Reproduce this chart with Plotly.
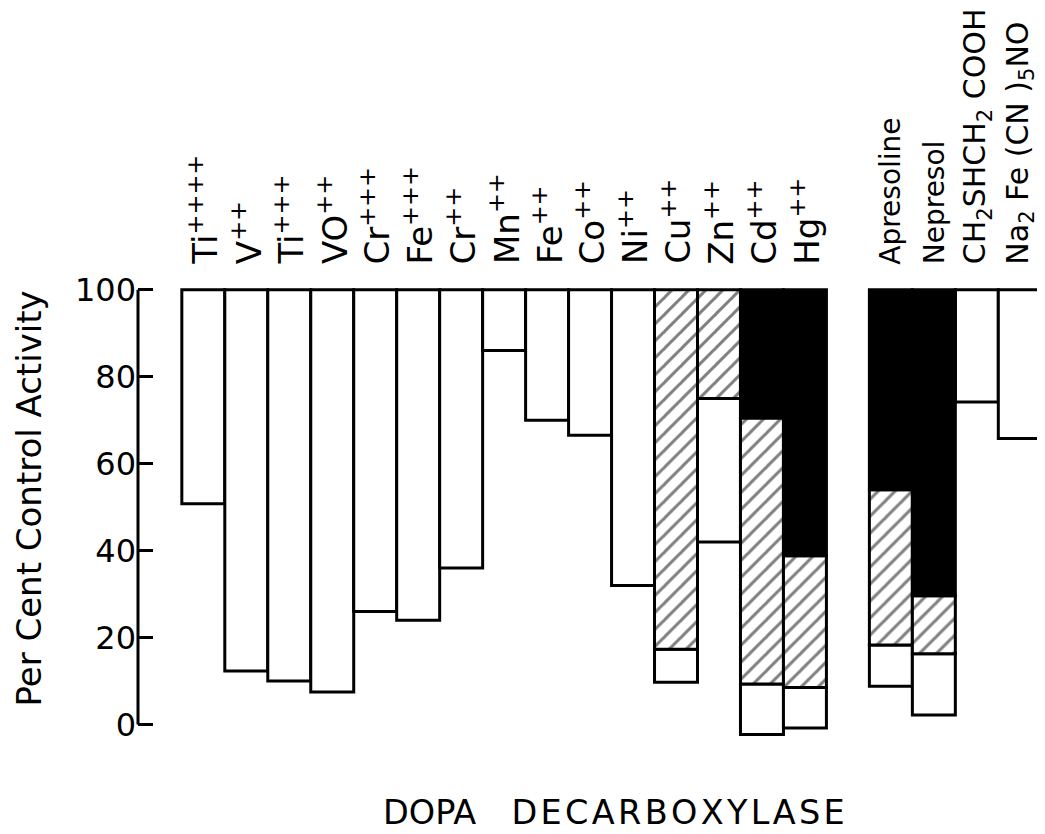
import plotly.graph_objects as go

# ---------------- data ----------------
labels = ["Ti<sup>++++</sup>", "V<sup>++</sup>", "Ti<sup>+++</sup>", "VO<sup>++</sup>",
          "Cr<sup>+++</sup>", "Fe<sup>+++</sup>", "Cr<sup>++</sup>", "Mn<sup>++</sup>",
          "Fe<sup>++</sup>", "Co<sup>++</sup>", "Ni<sup>++</sup>", "Cu<sup>++</sup>",
          "Zn<sup>++</sup>", "Cd<sup>++</sup>", "Hg<sup>++</sup>",
          "Apresoline", "Nepresol", "CH<sub>2</sub>SHCH<sub>2</sub> COOH",
          "Na<sub>2</sub> Fe (CN )<sub>5</sub>NO"]
group = ["metal"] * 15 + ["other"] * 4

# lower ends of each segment (per cent control activity); segments hang from 100
white_bottom = [50.8, 12.3, 10.0, 7.5, 26.0, 24.0, 36.0, 86.0, 70.0, 66.5, 32.0,
                9.7, 42.0, -2.3, -0.8, 8.8, 2.2, 74.2, 65.8]
hatch_bottom = [None] * 11 + [17.3, 75.0, 9.3, 8.5, 18.3, 16.3, None, None]
black_bottom = [None] * 13 + [70.5, 38.8, 54.0, 29.6, None, None]

y_ticks = [0, 20, 40, 60, 80, 100]
y_title = "Per Cent Control Activity"
x_title = "DOPA\u00a0\u00a0\u00a0\u200a" + "\u200a".join("DECARBOXYLASE")

# ---------------- style ----------------
label_size = [34] * 15 + [28, 28, 30, 30]
LW = 3
FONT = "DejaVu Sans"
Y_MIN, Y_MAX = -10, 102
X_MIN, X_MAX = -1.52, 19.54

# ---------------- positions ----------------
x_pos = []
pos = 0
prev = group[0]
for g in group:
    if g != prev:
        pos += 1
        prev = g
    x_pos.append(pos)
    pos += 1

black_x, black_y, black_b = [], [], []
hatch_x, hatch_y, hatch_b = [], [], []
white_x, white_y, white_b = [], [], []
for xp, wb, hb, bb in zip(x_pos, white_bottom, hatch_bottom, black_bottom):
    top = 100.0
    if bb is not None:
        black_x.append(xp); black_b.append(bb); black_y.append(top - bb)
        top = bb
    if hb is not None:
        hatch_x.append(xp); hatch_b.append(hb); hatch_y.append(top - hb)
        top = hb
    white_x.append(xp); white_b.append(wb); white_y.append(top - wb)


def ypaper(v):
    return (v - Y_MIN) / (Y_MAX - Y_MIN)


fig = go.Figure()
fig.add_trace(go.Bar(x=white_x, y=white_y, base=white_b, width=1,
                     marker=dict(color="white", line=dict(color="black", width=LW)),
                     showlegend=False, hoverinfo="skip"))
fig.add_trace(go.Bar(x=hatch_x, y=hatch_y, base=hatch_b, width=1,
                     marker=dict(color="white", line=dict(color="black", width=LW),
                                 pattern=dict(shape="/", fgcolor="black", bgcolor="white",
                                              size=12, solidity=0.25)),
                     showlegend=False, hoverinfo="skip"))
fig.add_trace(go.Bar(x=black_x, y=black_y, base=black_b, width=1,
                     marker=dict(color="black", line=dict(color="black", width=LW)),
                     showlegend=False, hoverinfo="skip"))

# category labels (rotated, above the bars)
for xp, lab, fs in zip(x_pos, labels, label_size):
    fig.add_annotation(x=xp, y=ypaper(105.6), xref="x", yref="paper", text=lab,
                       textangle=-90, showarrow=False, xanchor="center",
                       yanchor="bottom", borderpad=0,
                       font=dict(family=FONT, size=fs, color="black"))

# y axis line from 0 to 100
fig.add_shape(type="line", xref="paper", yref="y", x0=0, x1=0, y0=0, y1=100,
              line=dict(color="black", width=LW))

fig.add_annotation(x=-130 / 906, y=ypaper(52), xref="paper", yref="paper", text=y_title,
                   textangle=-90, showarrow=False, xanchor="left", yanchor="middle",
                   borderpad=0,
                   font=dict(family=FONT, size=34, color="black"))
fig.add_annotation(x=9.55, y=ypaper(-20.3), xref="x", yref="paper", text=x_title,
                   showarrow=False, xanchor="center", yanchor="middle", borderpad=0,
                   font=dict(family=FONT, size=33.5, color="black"))

# page body has an 8px margin: the figure is laid out 8px up/left of page coords
fig.update_layout(
    width=1037, height=826,
    margin=dict(l=130, r=1.5, t=273, b=66),
    plot_bgcolor="white", paper_bgcolor="white",
    barmode="overlay",
    xaxis=dict(range=[X_MIN, X_MAX], visible=False),
    yaxis=dict(range=[Y_MIN, Y_MAX], tickvals=y_ticks, ticks="inside", ticklen=15,
               tickwidth=LW, tickcolor="black", showgrid=False, zeroline=False,
               showline=False, ticklabelstandoff=1,
               tickfont=dict(family=FONT, size=32, color="black")),
)

fig.write_html("out.html")
